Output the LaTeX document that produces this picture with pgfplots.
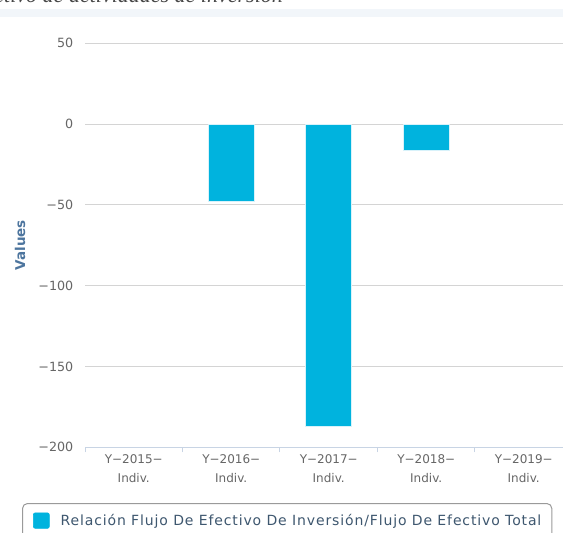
\documentclass[border=0pt]{standalone}
\usepackage{fontspec}
\setmainfont{DejaVu Sans}
\newfontfamily\titlefont{Liberation Serif}
\newfontfamily\legfont[LetterSpace=6.2]{DejaVu Sans}
\usepackage{pgfplots}
\pgfplotsset{compat=1.18}

\definecolor{barcol}{HTML}{00B3DE}
\definecolor{barline}{HTML}{D8F2FA}
\definecolor{gridcol}{HTML}{D4D4D4}
\definecolor{axiscol}{HTML}{C8D4E4}
\definecolor{tickcol}{HTML}{666666}
\definecolor{ytitlecol}{HTML}{4D759E}
\definecolor{legcol}{HTML}{3E576F}
\definecolor{legborder}{HTML}{9A9A9A}
\definecolor{bandcol}{HTML}{F2F6FA}

\begin{document}
\begin{tikzpicture}[x=1pt,y=1pt]
\useasboundingbox (0,0) rectangle (563,533);
\clip (0,0) rectangle (563,533);
% header strip above the chart
\fill[bandcol] (0,516) rectangle (563,524.3);
\node[anchor=base east, inner sep=0pt, text=black!72,
      font=\titlefont\itshape\fontsize{22}{22}\selectfont]
  at (283,530.5) {Flujo de efectivo de actividades de inversión};

\begin{axis}[
  at={(85pt,85.7pt)}, anchor=south west,
  scale only axis, width=487.5pt, height=404pt,
  xmin=-0.5, xmax=4.5, ymin=-200, ymax=50,
  axis lines*=left,
  x axis line style={draw=axiscol, line width=1pt},
  y axis line style={draw=none},
  ymajorgrids,
  grid style={draw=gridcol, line width=1pt},
  major tick length=0pt,
  ytick={-200,-150,-100,-50,0,50},
  yticklabels={−200,−150,−100,−50,0,50},
  ytick style={draw=none},
  yticklabel style={anchor=east, inner sep=0pt, xshift=-11.5pt,
                    text=tickcol, font=\fontsize{12.7}{14}\selectfont},
  xtick={0,1,2,3,4},
  xticklabels={{Y−2015−\\Indiv.},{Y−2016−\\Indiv.},{Y−2017−\\Indiv.},{Y−2018−\\Indiv.},{Y−2019−\\Indiv.}},
  major x tick style={draw=none},
  minor xtick={-0.5,0.5,1.5,2.5,3.5,4.5},
  minor x tick style={draw=axiscol, line width=1pt},
  tick align=outside,
  minor tick length=5pt,
  xticklabel style={anchor=north, align=center, inner sep=0pt, yshift=-7.5pt,
                    text=tickcol, font=\fontsize{12}{18.5}\selectfont},
  ylabel={Values},
  ylabel style={at={(axis description cs:-0.1333,0.5)}, anchor=center, rotate=0,
                text=ytitlecol, font=\bfseries\fontsize{13.5}{15}\selectfont},
  legend style={at={(-0.1292,-0.1379)}, anchor=north west,
                draw=legborder, line width=1pt, rounded corners=5pt,
                inner xsep=10.5pt, inner ysep=9pt,
                nodes={inner xsep=0pt},
                /tikz/every odd column/.append style={column sep=11pt},
                text=legcol, font=\legfont\fontsize{14}{16}\selectfont},
  legend image code/.code={
    \fill[barcol, rounded corners=2pt] (0pt,-7.5pt) rectangle (16pt,8pt);
  },
  clip=false,
]
% investment cash flow over total cash flow, by year (no value for 2015 and 2019)
\addplot[ybar, bar width=46pt, fill=barcol, draw=barline, line width=0.6pt]
  coordinates {(1,-48) (2,-187) (3,-16)};
\addlegendentry{Relación Flujo De Efectivo De Inversión/Flujo De Efectivo Total}
\end{axis}
\end{tikzpicture}
\end{document}
